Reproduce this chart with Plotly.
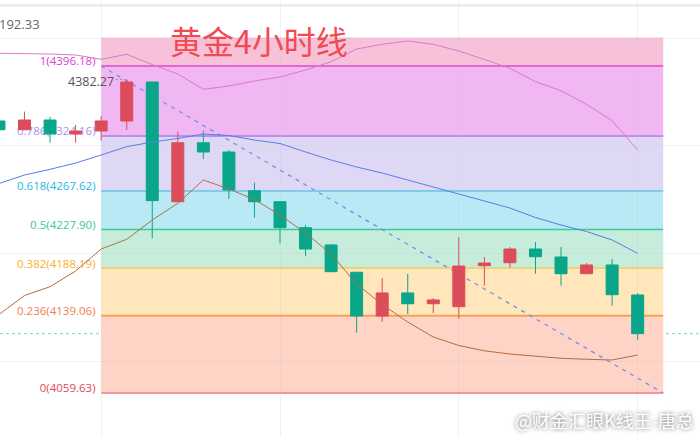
import plotly.graph_objects as go

# ---------------- data ----------------
idx = list(range(26))
opens  = [4339.6, 4330.6, 4340.6, 4326.2, 4329.3, 4339.6, 4379.7, 4256.5, 4317.2, 4307.7,
          4267.8, 4256.5, 4229.8, 4212.0, 4183.9, 4138.9, 4162.6, 4151.5, 4148.5, 4190.7,
          4193.7, 4207.8, 4199.6, 4182.4, 4191.4, 4160.5]
highs  = [4341.0, 4349.2, 4343.7, 4335.5, 4344.7, 4382.27, 4379.7, 4328.6, 4329.6, 4309.7,
          4276.1, 4256.5, 4232.5, 4213.0, 4184.5, 4178.0, 4182.1, 4157.4, 4220.2, 4199.6,
          4209.9, 4215.0, 4209.9, 4193.4, 4197.5, 4162.6]
lows   = [4329.5, 4330.6, 4317.2, 4317.2, 4319.3, 4330.3, 4218.9, 4256.5, 4300.5, 4259.3,
          4240.1, 4213.7, 4200.6, 4183.9, 4121.7, 4133.0, 4140.9, 4142.0, 4136.1, 4170.1,
          4188.6, 4182.4, 4170.1, 4182.4, 4149.5, 4114.5]
closes = [4330.6, 4340.6, 4326.2, 4329.3, 4339.6, 4379.7, 4257.6, 4317.2, 4307.7, 4268.6,
          4256.5, 4229.8, 4207.8, 4184.5, 4138.9, 4162.6, 4151.5, 4155.4, 4190.3, 4193.4,
          4207.8, 4199.9, 4182.4, 4191.4, 4160.8, 4120.7]

ma_pink  = [4409.25, 4409.05, 4408.53, 4407.50, 4403.08, 4408.22, 4397.62, 4387.95, 4372.20, 4375.60,
            4380.74, 4384.86, 4392.06, 4400.61, 4413.68, 4418.51, 4421.91, 4418.51, 4411.62, 4402.87,
            4393.81, 4380.02, 4370.76, 4356.76, 4339.88, 4309.73]
ma_blue  = [4275.25, 4284.00, 4289.86, 4296.35, 4304.58, 4313.12, 4317.96, 4321.56, 4326.19, 4324.65,
            4320.02, 4316.42, 4307.67, 4299.44, 4292.23, 4286.06, 4278.85, 4271.65, 4264.44, 4257.24,
            4250.03, 4240.26, 4232.54, 4225.85, 4217.10, 4203.41]
ma_brown = [4140.42, 4159.98, 4169.04, 4185.19, 4207.84, 4217.82, 4237.68, 4254.87, 4278.85, 4269.59,
            4258.78, 4242.83, 4224.30, 4202.69, 4171.81, 4150.72, 4132.70, 4117.27, 4108.52, 4103.06,
            4099.77, 4097.40, 4095.34, 4094.32, 4093.60, 4098.74]

fib_ratios = ["1", "0.786", "0.618", "0.5", "0.382", "0.236", "0"]
fib_prices = [4396.18, 4324.16, 4267.62, 4227.90, 4188.19, 4139.06, 4059.63]
fib_top = 4425.5
fib_start, fib_end = 4, 26

grid_prices = [4425.0, 4313.85, 4202.7, 4091.55]
grid_idx = [4, 11, 18, 25]

title_text = "黄金4小时线"
corner_text = "192.33"
watermark = "@财金汇眼K线王-唐总"

# ---------------- styles ----------------
zone_colors = ["#F6C1D9", "#F0B7F2", "#DFD8F5", "#B9E9F5", "#C6EDDC", "#FFE6BB", "#FFD3C6"]
line_colors = ["#E864D3", "#BB8FEB", "#7DCDEA", "#3CCB96", "#EDD27A", "#F9A058", "#F4969C"]
label_colors = ["#D83FD4", "#A294EA", "#27B7E3", "#3CC98F", "#F7B02C", "#F3804F", "#E2475B"]
RED = "#DC4C5A"
GREEN = "#0AA68A"
LABEL_GAP = 0.22   # gap between label and zone start, in candle units
LABEL_DROP = 4.1   # how far the label baseline sits below... in price units

fig = go.Figure()

shapes = []
for k, p in enumerate(fib_prices):
    upper = fib_top if k == 0 else fib_prices[k - 1]
    shapes.append(dict(type="rect", xref="x", yref="y", x0=fib_start, x1=fib_end,
                       y0=p, y1=upper, fillcolor=zone_colors[k], line=dict(width=0),
                       layer="below"))
for k, p in enumerate(fib_prices):
    shapes.append(dict(type="line", xref="x", yref="y", x0=fib_start, x1=fib_end,
                       y0=p, y1=p, line=dict(color=line_colors[k], width=2 if k != 3 else 1.5),
                       layer="below"))
    # invisible carrier for the level label (drawn under the candles)
    shapes.append(dict(type="line", xref="x", yref="y", x0=fib_start - LABEL_GAP - 0.1,
                       x1=fib_start - LABEL_GAP, y0=p - LABEL_DROP, y1=p - LABEL_DROP,
                       line=dict(color="rgba(0,0,0,0)", width=0), layer="below",
                       label=dict(text=f"{fib_ratios[k]}({p:.2f})", textposition="end",
                                  xanchor="right", yanchor="bottom", padding=1,
                                  font=dict(color=label_colors[k], size=11.5,
                                            family="Open Sans, Noto Sans, sans-serif"))))
# diagonal dashed fib trend line
shapes.append(dict(type="line", xref="x", yref="y", x0=fib_start, x1=fib_end,
                   y0=fib_prices[0], y1=fib_prices[-1],
                   line=dict(color="#6F8FF0", width=1.3, dash="4px,5px"), layer="below"))
# current price dotted line
shapes.append(dict(type="line", xref="paper", yref="y", x0=0, x1=1,
                   y0=closes[-1], y1=closes[-1],
                   line=dict(color="#79D6C6", width=1, dash="dot"), layer="below"))
# top toolbar border
shapes.append(dict(type="line", xref="paper", yref="paper", x0=0, x1=1,
                   y0=1 - 5.5 / 436, y1=1 - 5.5 / 436,
                   line=dict(color="#E3E6EA", width=2), layer="above"))

fig.add_trace(go.Candlestick(
    x=idx, open=opens, high=highs, low=lows, close=closes,
    increasing=dict(line=dict(color=RED, width=1), fillcolor=RED),
    decreasing=dict(line=dict(color=GREEN, width=1), fillcolor=GREEN),
    whiskerwidth=0, hoverinfo="skip", showlegend=False))

for vals, col in [(ma_pink, "#D77BCB"), (ma_blue, "#5B7BEA"), (ma_brown, "#B06E45")]:
    fig.add_trace(go.Scatter(x=idx, y=vals, mode="lines",
                             line=dict(color=col, width=1), hoverinfo="skip", showlegend=False))

# high marker
hi_i = highs.index(max(highs))
fig.add_trace(go.Scatter(x=[hi_i - 0.42, hi_i - 0.05], y=[max(highs)] * 2, mode="lines",
                         line=dict(color="#999999", width=1, dash="2px,2px"),
                         hoverinfo="skip", showlegend=False))

annotations = [
    dict(x=hi_i, y=max(highs), xref="x", yref="y", text=f"{max(highs):.2f}",
         xanchor="right", yanchor="middle", xshift=-11, yshift=-2, showarrow=False,
         font=dict(color="#555555", size=12.5, family="Open Sans, Noto Sans, sans-serif")),
    dict(x=0.37, y=1 - 40 / 436, xref="paper", yref="paper", text=title_text,
         xanchor="center", yanchor="middle", showarrow=False,
         font=dict(color="#F14A50", size=32, family="Noto Sans CJK SC")),
    dict(x=0, y=1 - 24 / 436, xref="paper", yref="paper", text=corner_text,
         xanchor="left", yanchor="middle", showarrow=False, xshift=-3,
         font=dict(color="#666666", size=13, family="Open Sans, Noto Sans, sans-serif")),
    dict(x=1, y=1 - 420 / 436, xref="paper", yref="paper", text=watermark,
         xanchor="right", yanchor="middle", showarrow=False, xshift=-4,
         font=dict(color="#FFFFFF", size=18, family="Noto Sans CJK SC",
                   shadow="0px 0px 4px #666666")),
]

fig.update_layout(
    width=700, height=436, margin=dict(l=0, r=0, t=0, b=0),
    paper_bgcolor="white", plot_bgcolor="white",
    shapes=shapes, annotations=annotations, boxgap=0.33,
    xaxis=dict(range=[0.04, 27.44], showticklabels=False, tickvals=grid_idx,
               showgrid=True, gridcolor="rgba(200,200,200,0.25)", gridwidth=1,
               zeroline=False, showline=False, rangeslider=dict(visible=False), fixedrange=True),
    yaxis=dict(range=[4015.37, 4464.11], showticklabels=False, tickvals=grid_prices,
               showgrid=True, gridcolor="rgba(200,200,200,0.25)", gridwidth=1,
               zeroline=False, showline=False, fixedrange=True),
    hovermode=False,
)

fig.write_html("out.html")
